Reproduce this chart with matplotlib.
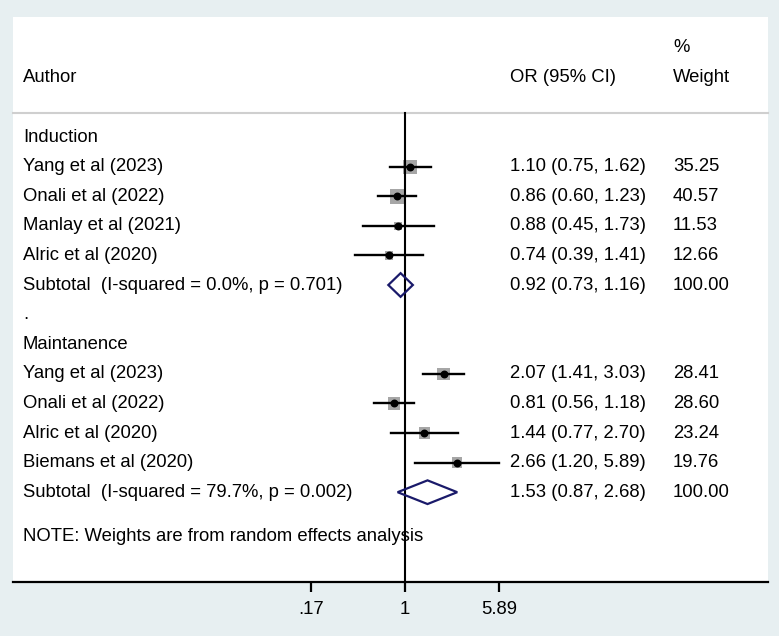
import numpy as np
import matplotlib
matplotlib.use("Agg")
import matplotlib.pyplot as plt
from matplotlib.patches import Polygon
import matplotlib.transforms as mtransforms

plt.rcParams['font.family'] = ['Liberation Sans', 'DejaVu Sans']

# ---- data ----
group1 = "Induction"
group2 = "Maintanence"
authors1 = ["Yang et al (2023)", "Onali et al (2022)", "Manlay et al (2021)", "Alric et al (2020)"]
or1 = [1.10, 0.86, 0.88, 0.74]
lo1 = [0.75, 0.60, 0.45, 0.39]
hi1 = [1.62, 1.23, 1.73, 1.41]
w1 = [35.25, 40.57, 11.53, 12.66]
sub1_label = "Subtotal  (I-squared = 0.0%, p = 0.701)"
sub1 = [0.92, 0.73, 1.16]

authors2 = ["Yang et al (2023)", "Onali et al (2022)", "Alric et al (2020)", "Biemans et al (2020)"]
or2 = [2.07, 0.81, 1.44, 2.66]
lo2 = [1.41, 0.56, 0.77, 1.20]
hi2 = [3.03, 1.18, 2.70, 5.89]
w2 = [28.41, 28.60, 23.24, 19.76]
sub2_label = "Subtotal  (I-squared = 79.7%, p = 0.002)"
sub2 = [1.53, 0.87, 2.68]

note = "NOTE: Weights are from random effects analysis"
xticks = [0.17, 1, 5.89]
xticklabels = [".17", "1", "5.89"]

# ---- figure ----
W, H = 779, 636
fig = plt.figure(figsize=(W / 100, H / 100), dpi=100)
fig.patch.set_facecolor('#e7eff1')

left, right, top, bottom = 13, 768, 17, 582
ax = fig.add_axes([left / W, (H - bottom) / H, (right - left) / W, (bottom - top) / H])
ax.set_facecolor('white')
ax.set_xscale('log')
px_per_dec = 122.0
x0px = 405.0
ax.set_xlim(10 ** ((left - x0px) / px_per_dec), 10 ** ((right - x0px) / px_per_dec))
row0, step = 137.0, 29.6
ax.set_ylim((bottom - row0) / step, (top - row0) / step)

for s in ['top', 'right', 'left']:
    ax.spines[s].set_visible(False)
ax.spines['bottom'].set_linewidth(1.6)
ax.spines['bottom'].set_color('black')
ax.set_yticks([])
fs = 13.3
ax.set_xticks(xticks)
ax.set_xticklabels(xticklabels, fontsize=fs)
ax.xaxis.set_minor_locator(matplotlib.ticker.NullLocator())
ax.tick_params(axis='x', length=7, width=1.6, pad=7, direction='out')

tr = mtransforms.blended_transform_factory(ax.transAxes, ax.transData)
xl = (23 - left) / (right - left)
xor = (510 - left) / (right - left)
xw = (673 - left) / (right - left)

# header
hdr_y = (77 - row0) / step
ax.text(xl, hdr_y, "Author", transform=tr, fontsize=fs, va='center')
ax.text(xor, hdr_y, "OR (95% CI)", transform=tr, fontsize=fs, va='center')
ax.text(xw, hdr_y, "Weight", transform=tr, fontsize=fs, va='center')
ax.text(xw, (47 - row0) / step, "%", transform=tr, fontsize=fs, va='center')
sep_y = (113 - row0) / step
ax.plot([0, 1], [sep_y, sep_y], transform=tr, color='#cfcfcf', lw=1.5, clip_on=False)

# reference line at 1
ax.plot([1, 1], [sep_y, (bottom - row0) / step], color='black', lw=1.5, zorder=3)

def draw_study(y, o, l, h, w, name):
    ax.text(xl, y, name, transform=tr, fontsize=fs, va='center')
    side_px = 15.0 * np.sqrt(w / 40.57)
    ax.scatter([o], [y], marker='s', s=(side_px * 0.72) ** 2, color='#a6a6a6',
               edgecolors='none', zorder=2)
    ax.plot([l, h], [y, y], color='black', lw=1.7, zorder=4)
    ax.scatter([o], [y], marker='o', s=22, color='black', zorder=5)
    ax.text(xor, y, f"{o:.2f} ({l:.2f}, {h:.2f})", transform=tr, fontsize=fs, va='center')
    ax.text(xw, y, f"{w:.2f}", transform=tr, fontsize=fs, va='center')

def draw_sub(y, vals, label):
    o, l, h = vals
    ax.text(xl, y, label, transform=tr, fontsize=fs, va='center')
    d = 0.4
    poly = Polygon([[l, y], [o, y - d], [h, y], [o, y + d]], closed=True,
                   facecolor='none', edgecolor='#1a1a6a', lw=1.6, zorder=6)
    ax.add_patch(poly)
    ax.text(xor, y, f"{o:.2f} ({l:.2f}, {h:.2f})", transform=tr, fontsize=fs, va='center')
    ax.text(xw, y, "100.00", transform=tr, fontsize=fs, va='center')

ax.text(xl, 0, group1, transform=tr, fontsize=fs, va='center')
for i in range(len(authors1)):
    draw_study(1 + i, or1[i], lo1[i], hi1[i], w1[i], authors1[i])
draw_sub(5, sub1, sub1_label)
ax.text(xl, 6, ".", transform=tr, fontsize=fs, va='center')
ax.text(xl, 7, group2, transform=tr, fontsize=fs, va='center')
for i in range(len(authors2)):
    draw_study(8 + i, or2[i], lo2[i], hi2[i], w2[i], authors2[i])
draw_sub(12, sub2, sub2_label)
ax.text(xl, 13.5, note, transform=tr, fontsize=fs, va='center')

fig.savefig("out.png", dpi=100, facecolor=fig.get_facecolor())
